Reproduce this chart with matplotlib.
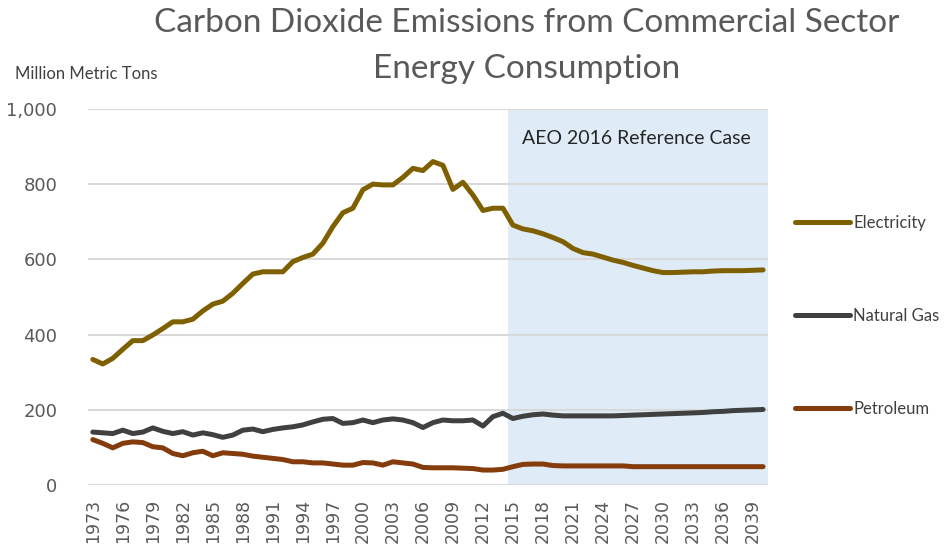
import matplotlib.pyplot as plt
import numpy as np

# data (million metric tons), 1973-2040
years = list(range(1973, 2041))
electricity = [334, 322, 337, 361, 384, 384, 399, 416, 434, 434,
               441, 463, 481, 489, 510, 536, 561, 567, 567, 567,
               594, 605, 614, 643, 687, 724, 736, 785, 800, 798,
               798, 818, 842, 836, 860, 850, 786, 805, 771, 730,
               736, 736, 691, 681, 676, 668, 658, 647, 629, 618,
               614, 606, 598, 592, 584, 577, 570, 565, 565, 566,
               567, 567, 569, 570, 570, 570, 571, 572]
natural_gas = [141, 139, 137, 146, 137, 141, 152, 143, 137, 142,
               133, 139, 134, 127, 133, 146, 149, 142, 148, 152,
               155, 160, 168, 175, 177, 164, 166, 173, 166, 173,
               176, 173, 166, 153, 166, 173, 171, 171, 173, 157,
               182, 191, 177, 183, 187, 189, 186, 184, 184, 184,
               184, 184, 184, 185, 186, 187, 188, 189, 190, 191,
               192, 193, 195, 196, 198, 199, 200, 201]
petroleum = [121, 111, 99, 111, 115, 113, 102, 99, 84, 78,
             86, 90, 78, 86, 84, 82, 77, 74, 71, 68,
             62, 62, 59, 59, 56, 53, 53, 60, 59, 53,
             62, 59, 56, 47, 46, 46, 46, 45, 44, 40,
             40, 42, 49, 55, 56, 56, 52, 51, 51, 51,
             51, 51, 51, 51, 49, 49, 49, 49, 49, 49,
             49, 49, 49, 49, 49, 49, 49, 49]
series_names = ['Electricity', 'Natural Gas', 'Petroleum']
series_colors = ['#7F6000', '#404040', '#843C0C']
projection_start = 2015
tick_years = list(range(1973, 2040, 3))

fig = plt.figure(figsize=(9.44, 5.5), dpi=100)
ax = fig.add_axes([0.093, 0.118, 0.7206, 0.684])

# projection shading
ax.axvspan(projection_start - 0.5, years[-1] + 0.5, color='#DFEBF6', zorder=1, lw=0)
ax.text(projection_start + 0.9, 920, 'AEO 2016 Reference Case', fontsize=14,
        family='Lato', color='#262626', va='center', zorder=5)

for vals, name, col in zip([electricity, natural_gas, petroleum], series_names, series_colors):
    ax.plot(years, vals, color=col, lw=3.6, label=name, zorder=4,
            solid_capstyle='round', solid_joinstyle='round')

ax.set_xlim(years[0] - 0.5, years[-1] + 0.5)
ax.set_ylim(0, 1000)
ax.set_yticks(np.arange(0, 1001, 200))
ax.set_yticklabels(['{:,}'.format(v) for v in range(0, 1001, 200)])
ax.set_xticks(tick_years)
ax.set_xticklabels([str(y) for y in tick_years], rotation=90)
ax.tick_params(axis='both', length=0, colors='#595959', labelsize=13)
ax.tick_params(axis='x', labelsize=12.5, pad=10)
ax.tick_params(axis='y', pad=22)
ax.grid(axis='y', color='#D9D9D9', lw=1.5, zorder=2)
ax.set_axisbelow(False)
for s in ax.spines.values():
    s.set_visible(False)

fig.text(0.558, 0.958, 'Carbon Dioxide Emissions from Commercial Sector',
         fontsize=24, family='Lato', color='#595959', ha='center', va='center')
fig.text(0.558, 0.874, 'Energy Consumption',
         fontsize=24, family='Lato', color='#595959', ha='center', va='center')
fig.text(0.016, 0.865, 'Million Metric Tons', fontsize=12, family='Lato',
         color='#404040', va='center')

leg = ax.legend(loc='upper left', bbox_to_anchor=(1.03, 0.735), frameon=False,
                fontsize=12, handlelength=3.3, handletextpad=0.2,
                labelspacing=4.6, borderaxespad=0)
for t in leg.get_texts():
    t.set_color('#404040')
    t.set_family('Lato')

fig.savefig('out.png', dpi=100)
